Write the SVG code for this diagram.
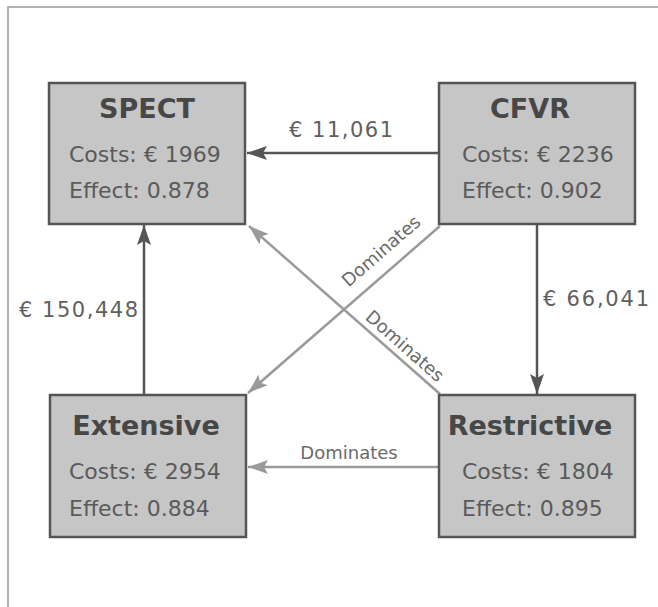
<svg xmlns="http://www.w3.org/2000/svg" width="658" height="607" viewBox="0 0 658 607">
<style>
.box{fill:#c6c6c6;stroke:#555;stroke-width:2.5}
.title{font-family:"DejaVu Sans",sans-serif;font-weight:bold;font-size:27px;fill:#474747;text-anchor:middle}
.val{font-family:"DejaVu Sans",sans-serif;font-size:22px;fill:#5a5a5a}
.lbl{font-family:"DejaVu Sans",sans-serif;font-size:21px;fill:#606060}
.dom{font-family:"DejaVu Sans",sans-serif;font-size:18px;fill:#6a6a6a}
.dark{stroke:#555;stroke-width:2.5;fill:none;marker-end:url(#ad)}
.light{stroke:#9a9a9a;stroke-width:2.5;fill:none;marker-end:url(#al)}
</style>
<defs>
<marker id="ad" markerUnits="userSpaceOnUse" markerWidth="22" markerHeight="14" refX="20" refY="7" orient="auto" viewBox="0 0 22 14">
<path d="M0,0 L20,7 L0,14 L4,7 z" fill="#555"/>
</marker>
<marker id="al" markerUnits="userSpaceOnUse" markerWidth="22" markerHeight="14" refX="20" refY="7" orient="auto" viewBox="0 0 22 14">
<path d="M0,0 L20,7 L0,14 L4,7 z" fill="#9a9a9a"/>
</marker>
</defs>
<rect width="658" height="607" fill="#fff"/>
<path d="M8,607 V7 H658" fill="none" stroke="#999" stroke-width="1.5"/>
<g id="connectors">
<line class="dark" x1="439" y1="153" x2="247" y2="153"/>
<text class="lbl" x="289" y="137" textLength="104" lengthAdjust="spacing">€ 11,061</text>
<line class="dark" x1="537" y1="224" x2="537" y2="394"/>
<text class="lbl" x="543" y="306" textLength="106" lengthAdjust="spacing">€ 66,041</text>
<line class="dark" x1="144" y1="395" x2="144" y2="225"/>
<text class="lbl" x="19" y="317" textLength="119" lengthAdjust="spacing">€ 150,448</text>
<line class="light" x1="439" y1="467" x2="248" y2="467"/>
<text class="dom" x="349" y="459" text-anchor="middle">Dominates</text>
<line class="light" x1="440" y1="226" x2="248" y2="393"/>
<text class="dom" x="381" y="251" dy="0.35em" text-anchor="middle" transform="rotate(-41 381 251)">Dominates</text>
<line class="light" x1="440" y1="394" x2="249" y2="226"/>
<text class="dom" x="405" y="346" dy="0.35em" text-anchor="middle" transform="rotate(41.3 405 346)">Dominates</text>
</g>
<g id="spect">
<rect class="box" x="49" y="83" width="196" height="141"/>
<text class="title" x="147" y="118">SPECT</text>
<text class="val" x="69" y="162">Costs: € 1969</text>
<text class="val" x="69" y="198">Effect: 0.878</text>
</g>
<g id="cfvr">
<rect class="box" x="439" y="83" width="196" height="141"/>
<text class="title" x="530" y="118">CFVR</text>
<text class="val" x="462" y="162">Costs: € 2236</text>
<text class="val" x="462" y="198">Effect: 0.902</text>
</g>
<g id="extensive">
<rect class="box" x="50" y="395" width="196" height="142"/>
<text class="title" x="146" y="435">Extensive</text>
<text class="val" x="69" y="479">Costs: € 2954</text>
<text class="val" x="69" y="516">Effect: 0.884</text>
</g>
<g id="restrictive">
<rect class="box" x="439" y="395" width="196" height="142"/>
<text class="title" x="530" y="435">Restrictive</text>
<text class="val" x="462" y="479">Costs: € 1804</text>
<text class="val" x="462" y="516">Effect: 0.895</text>
</g>
</svg>
